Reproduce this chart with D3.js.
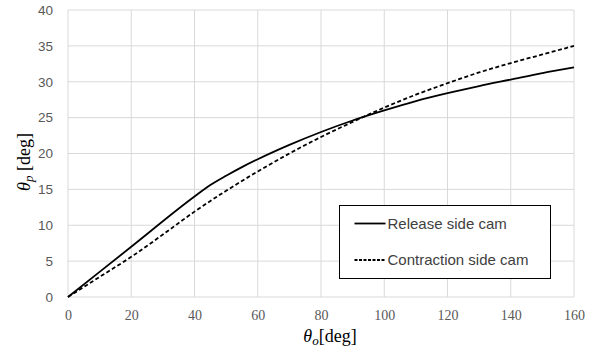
<!DOCTYPE html>
<html>
<head>
<meta charset="utf-8">
<script src="https://d3js.org/d3.v7.min.js"></script>
<style>
  body { margin: 0; background: #fff; }
</style>
</head>
<body>
<svg width="596" height="351"></svg>
<script>
// input angle theta_o [deg]
var releaseX = [0, 20, 40, 45, 50, 55, 60, 70, 80, 90, 100, 110, 120, 130, 140, 150, 160];
var releaseY = [0, 7.0, 14.0, 15.6, 16.9, 18.1, 19.2, 21.2, 23.0, 24.6, 26.0, 27.3, 28.4, 29.4, 30.3, 31.2, 32.0];

var contractionX = [0, 10, 20, 30, 40, 50, 60, 70, 80, 90, 100, 110, 120, 130, 140, 150, 160];
var contractionY = [0, 2.8, 5.6, 8.7, 11.9, 14.8, 17.5, 20.0, 22.3, 24.4, 26.4, 28.2, 29.8, 31.3, 32.6, 33.8, 35.0];

var xTicks = [0, 20, 40, 60, 80, 100, 120, 140, 160];
var yTicks = [0, 5, 10, 15, 20, 25, 30, 35, 40];

var seriesNames = ["Release side cam", "Contraction side cam"];

(function(){
    var svg = d3.select("svg");
    var margin = {left: 68, right: 22, top: 10, bottom: 54};
    var width = 596, height = 351;

    var x = d3.scaleLinear().domain([0, 160]).range([margin.left, width - margin.right]);
    var y = d3.scaleLinear().domain([0, 40]).range([height - margin.bottom, margin.top]);

    var grid = svg.append("g");
    grid.selectAll(".vg")
        .data(xTicks)
        .enter().append("line")
        .attr("x1", function(d) { return x(d); })
        .attr("x2", function(d) { return x(d); })
        .attr("y1", y(0))
        .attr("y2", y(40))
        .style("stroke", "#d9d9d9")
        .style("stroke-width", 1);
    grid.selectAll(".hg")
        .data(yTicks)
        .enter().append("line")
        .attr("x1", x(0))
        .attr("x2", x(160))
        .attr("y1", function(d) { return y(d); })
        .attr("y2", function(d) { return y(d); })
        .style("stroke", "#d9d9d9")
        .style("stroke-width", 1);

    var yAxis = svg.append("g")
        .attr("transform", "translate(" + x(0) + ",0)")
        .call(d3.axisLeft(y).tickValues(yTicks).tickSize(0).tickPadding(15));
    yAxis.select(".domain").remove();
    yAxis.selectAll("text")
        .style("font-family", "'Liberation Sans', Arial, sans-serif")
        .style("font-size", "13.5px")
        .style("fill", "#595959");

    var xAxis = svg.append("g")
        .attr("transform", "translate(0," + y(0) + ")")
        .call(d3.axisBottom(x).tickValues(xTicks).tickSize(0).tickPadding(13));
    xAxis.select(".domain").remove();
    xAxis.selectAll("text")
        .style("font-family", "'Liberation Serif', 'Times New Roman', serif")
        .style("font-size", "14px")
        .style("fill", "#595959");

    var line = d3.line()
        .x(function(d) { return x(d[0]); })
        .y(function(d) { return y(d[1]); })
        .curve(d3.curveMonotoneX);

    svg.append("path")
        .datum(d3.zip(releaseX, releaseY))
        .attr("d", line)
        .style("fill", "none")
        .style("stroke", "#000")
        .style("stroke-width", 1.8);

    svg.append("path")
        .datum(d3.zip(contractionX, contractionY))
        .attr("d", line)
        .style("fill", "none")
        .style("stroke", "#000")
        .style("stroke-width", 1.8)
        .style("stroke-dasharray", "4,2.5");

    // legend
    var legend = svg.append("g").attr("transform", "translate(339.5,205.5)");
    legend.append("rect")
        .attr("width", 211)
        .attr("height", 73)
        .style("fill", "#fff")
        .style("stroke", "#000")
        .style("stroke-width", 1);
    var item = legend.selectAll(".item")
        .data(seriesNames)
        .enter().append("g")
        .attr("transform", function(d, i) { return "translate(0," + (18 + i * 36.5) + ")"; });
    item.append("line")
        .attr("x1", 15)
        .attr("x2", 46)
        .style("stroke", "#000")
        .style("stroke-width", 1.8)
        .style("stroke-dasharray", function(d, i) { return i ? "3,1.5" : null; });
    item.append("text")
        .attr("x", 48)
        .attr("dy", "0.35em")
        .text(function(d) { return d; })
        .style("font-family", "'Liberation Sans', Arial, sans-serif")
        .style("font-size", "15px")
        .style("fill", "#404040");

    // axis titles
    var xt = svg.append("text")
        .attr("x", 330)
        .attr("y", 342)
        .attr("text-anchor", "middle")
        .style("font-family", "'Liberation Serif', 'Times New Roman', serif")
        .style("font-size", "18px")
        .style("fill", "#000");
    xt.append("tspan").style("font-style", "italic").text("θ");
    xt.append("tspan").style("font-style", "italic").style("font-size", "13px").attr("dy", 3).text("o");
    xt.append("tspan").attr("dy", -3).text("[deg]");

    var yt = svg.append("text")
        .attr("transform", "translate(30,162) rotate(-90)")
        .attr("text-anchor", "middle")
        .style("font-family", "'Liberation Serif', 'Times New Roman', serif")
        .style("font-size", "18px")
        .style("fill", "#000");
    yt.append("tspan").style("font-style", "italic").text("θ");
    yt.append("tspan").style("font-style", "italic").style("font-size", "13px").attr("dy", 3).text("p");
    yt.append("tspan").attr("dy", -3).text(" [deg]");
})();
</script>
</body>
</html>
